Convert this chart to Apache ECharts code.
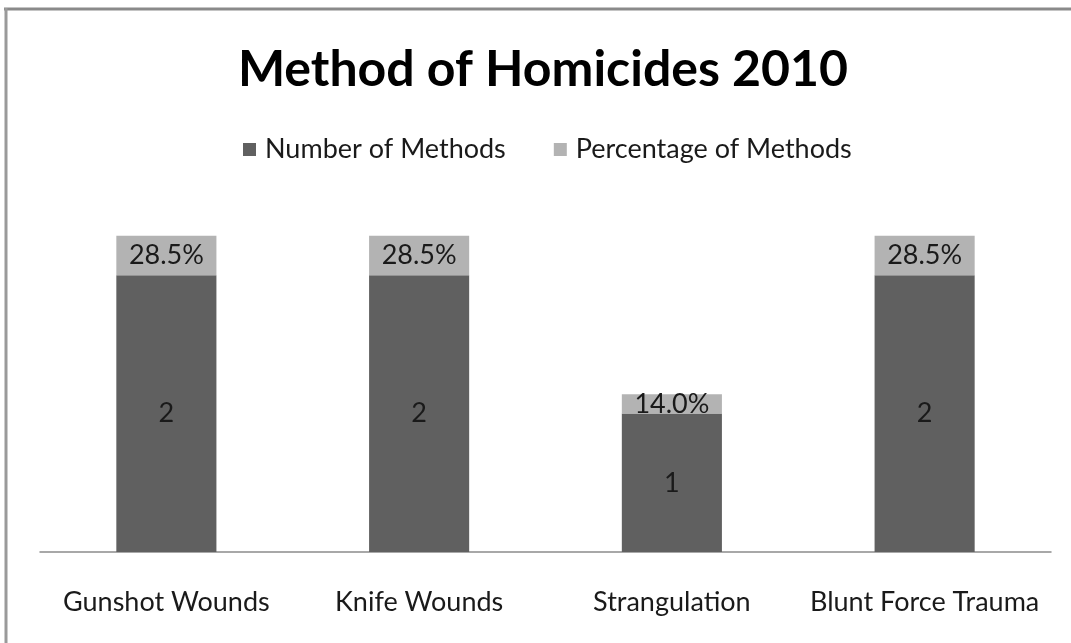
<!DOCTYPE html>
<html><head><meta charset="utf-8">
<script src="https://cdn.jsdelivr.net/npm/echarts@6/dist/echarts.min.js"></script>
<style>html,body{margin:0;padding:0;background:#fff}#c{width:1071px;height:643px}</style>
</head><body><div id="c"></div>
<script>
const categories = ['Gunshot Wounds', 'Knife Wounds', 'Strangulation', 'Blunt Force Trauma'];
const numberOfMethods = [2, 2, 1, 2];
const percentageOfMethods = [0.285, 0.285, 0.14, 0.285];
const percentageLabels = ['28.5%', '28.5%', '14.0%', '28.5%'];

const font = 'Lato, "Open Sans", sans-serif';
const chart = echarts.init(document.getElementById('c'));
chart.setOption({
  backgroundColor: '#fff',
  animation: false,
  title: {
    text: 'Method of Homicides 2010',
    left: 538, top: 40, textAlign: 'center',
    textStyle: { fontFamily: font, fontWeight: 'bold', fontSize: 50, color: '#000' }
  },
  legend: {
    top: 131, left: 238,
    itemWidth: 13, itemHeight: 13, itemGap: 48,
    icon: 'rect',
    textStyle: { fontFamily: font, fontSize: 27, color: '#1a1a1a', padding: [0, 0, 0, 4] },
    data: ['Number of Methods', 'Percentage of Methods']
  },
  grid: { left: 40, right: 20, top: 206, bottom: 91 },
  xAxis: {
    type: 'category', data: categories,
    axisLine: { lineStyle: { color: '#8c8c8c', width: 1.5 } },
    axisTick: { show: false },
    axisLabel: { fontFamily: font, fontSize: 27, color: '#1a1a1a', margin: 37, interval: 0, hideOverlap: false }
  },
  yAxis: { type: 'value', min: 0, max: 2.5, show: false, splitLine: { show: false } },
  series: [
    {
      name: 'Number of Methods', type: 'bar', stack: 's', data: numberOfMethods,
      barWidth: '39.6%',
      itemStyle: { color: '#606060' },
      label: { show: true, position: 'inside', fontFamily: font, fontSize: 27, color: '#1a1a1a' }
    },
    {
      name: 'Percentage of Methods', type: 'bar', stack: 's', data: percentageOfMethods,
      itemStyle: { color: '#b3b3b3' },
      label: { show: true, position: 'inside', fontFamily: font, fontSize: 27, color: '#1a1a1a',
        formatter: p => percentageLabels[p.dataIndex] }
    }
  ],
  graphic: [
    { type: 'line', shape: { x1: 4, y1: 9, x2: 1071, y2: 9 }, style: { stroke: '#8a8a8a', lineWidth: 3 } },
    { type: 'line', shape: { x1: 6, y1: 8, x2: 6, y2: 643 }, style: { stroke: '#9a9a9a', lineWidth: 3 } }
  ]
});
</script></body></html>
